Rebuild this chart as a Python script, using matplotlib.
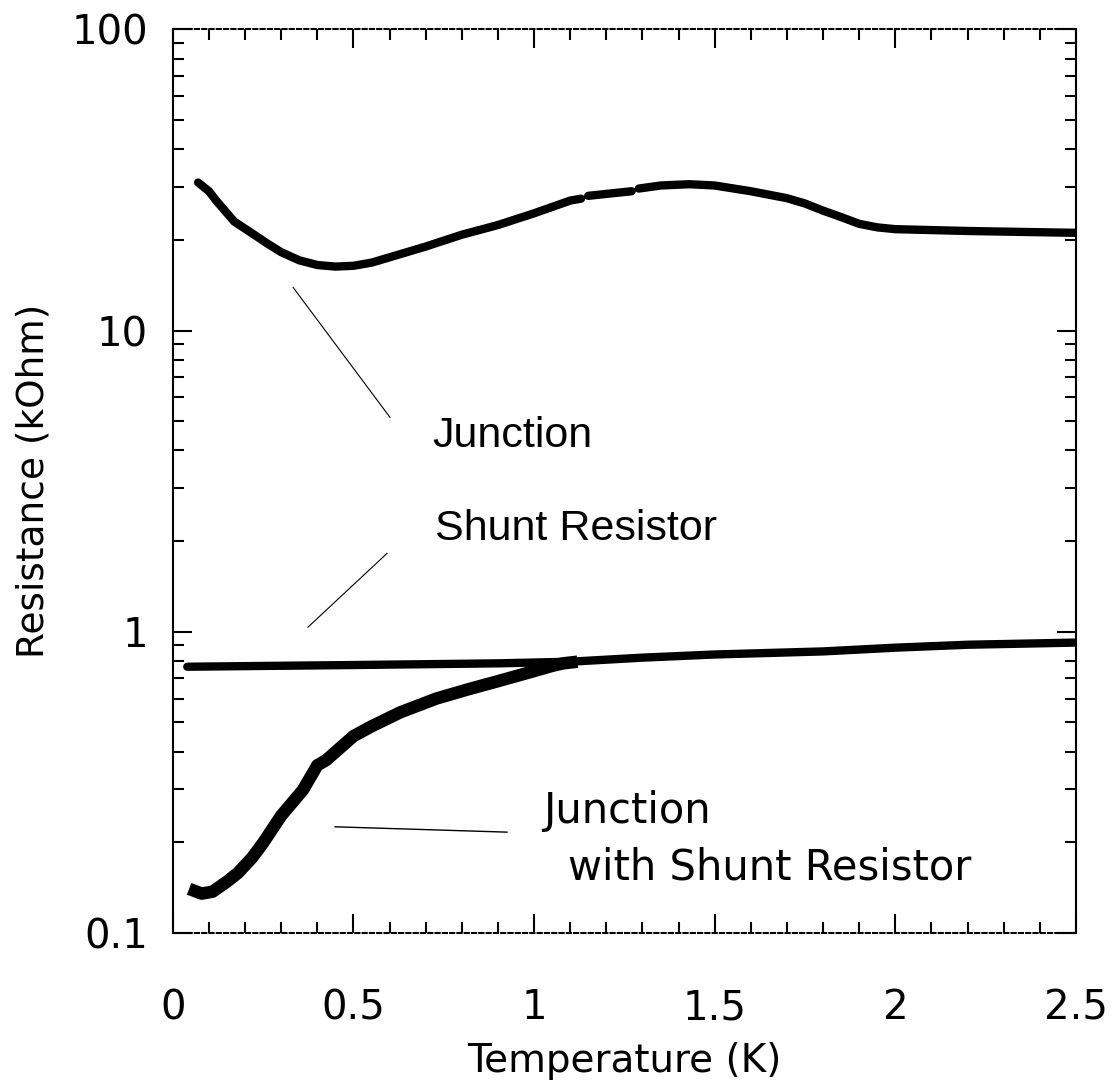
import numpy as np
import matplotlib
matplotlib.use("Agg")
import matplotlib.pyplot as plt

# junction alone (gaps in the trace kept as nan)
t_junc = [0.07, 0.10, 0.12, 0.17, 0.22, 0.26, 0.30, 0.35, 0.40, 0.45, 0.50, 0.55,
          0.60, 0.70, 0.80, 0.90, 1.00, 1.10, 1.13, 1.14, 1.15, 1.27, 1.28, 1.29,
          1.35, 1.43, 1.50, 1.60, 1.70, 1.75, 1.80, 1.85, 1.90, 1.95, 2.00, 2.20, 2.50]
r_junc = [31.0, 29.0, 27.0, 23.0, 21.0, 19.5, 18.2, 17.1, 16.5, 16.3, 16.4, 16.8,
          17.5, 19.0, 20.8, 22.4, 24.5, 27.0, 27.4, np.nan, 28.0, 29.0, np.nan, 29.6,
          30.3, 30.6, 30.3, 29.0, 27.5, 26.4, 25.0, 23.8, 22.6, 22.0, 21.7, 21.4, 21.1]

# shunt resistor alone
t_shunt = [0.04, 0.50, 0.90, 1.10, 1.30, 1.50, 1.80, 2.00, 2.20, 2.50]
r_shunt = [0.765, 0.775, 0.785, 0.795, 0.82, 0.84, 0.86, 0.885, 0.905, 0.92]

# junction with shunt resistor
t_both = [0.045, 0.08, 0.11, 0.15, 0.18, 0.22, 0.25, 0.30, 0.36, 0.40, 0.425,
          0.50, 0.55, 0.63, 0.73, 0.82, 0.90, 1.00, 1.05, 1.08, 1.12]
r_both = [0.14, 0.135, 0.137, 0.148, 0.158, 0.178, 0.199, 0.245, 0.298, 0.36, 0.375,
          0.45, 0.485, 0.54, 0.60, 0.645, 0.685, 0.74, 0.77, 0.785, 0.795]

xticks = [0, 0.5, 1, 1.5, 2, 2.5]
xticklabels = ["0", "0.5", "1", "1.5", "2", "2.5"]
yticks = [0.1, 1, 10, 100]
yticklabels = ["0.1", "1", "10", "100"]

fig = plt.figure(figsize=(11.15, 10.86), dpi=100)
ax = fig.add_axes([0.155, 0.141, 0.81, 0.832])

ax.plot(t_junc, r_junc, color="black", lw=6, solid_capstyle="round")
ax.plot(t_shunt, r_shunt, color="black", lw=6, solid_capstyle="round")
ax.plot(t_both, r_both, color="black", lw=9, solid_capstyle="butt",
        solid_joinstyle="round")

ax.set_yscale("log")
ax.set_xlim(0, 2.5)
ax.set_ylim(0.1, 100)

ax.set_xticks(xticks)
ax.set_xticklabels(xticklabels)
ax.set_xticks(np.arange(0, 2.5, 0.1), minor=True)
ax.set_yticks(yticks)
ax.set_yticklabels(yticklabels)
ax.yaxis.set_minor_locator(matplotlib.ticker.LogLocator(base=10, subs=np.arange(2, 10)))
ax.yaxis.set_minor_formatter(matplotlib.ticker.NullFormatter())

tick_font = "DejaVu Sans"
ax.tick_params(which="both", direction="in", top=True, right=True, width=1.5)
ax.tick_params(which="major", length=14, labelsize=29)
ax.tick_params(axis="x", which="major", pad=40)
ax.tick_params(axis="y", which="major", pad=18)
ax.tick_params(which="minor", length=8)
for lab in ax.get_xticklabels() + ax.get_yticklabels():
    lab.set_fontfamily(tick_font)

for side in ["left", "right"]:
    ax.spines[side].set_linewidth(1.5)
for side in ["top", "bottom"]:
    ax.spines[side].set_linewidth(1.5)
    ax.spines[side].set_linestyle((0, (2, 1.5)))

ax.set_xlabel("Temperature (K)", fontsize=28, family=tick_font, labelpad=10)
ax.set_ylabel("Resistance (kOhm)", fontsize=27, family=tick_font, labelpad=14)

# pointer lines
ax.plot([0.333, 0.601], [13.9, 5.15], color="black", lw=0.8)
ax.plot([0.374, 0.593], [1.035, 1.82], color="black", lw=0.8)
ax.plot([0.449, 0.925], [0.225, 0.216], color="black", lw=1.0)

ax.text(0.718, 4.1, "Junction", fontsize=31, family="Liberation Sans", va="baseline")
ax.text(0.726, 2.01, "Shunt Resistor", fontsize=31, family="Liberation Sans", va="baseline")
ax.text(1.025, 0.232, "Junction", fontsize=30, family=tick_font, va="baseline")
ax.text(1.095, 0.15, "with Shunt Resistor", fontsize=30, family=tick_font, va="baseline")

fig.savefig("out.png", dpi=100)
